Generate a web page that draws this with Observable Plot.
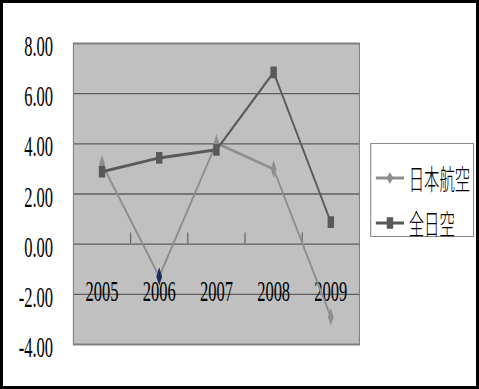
<!DOCTYPE html>
<html>
<head>
<meta charset="utf-8">
<script src="https://cdn.jsdelivr.net/npm/d3@7"></script>
<script src="https://cdn.jsdelivr.net/npm/@observablehq/plot@0.6"></script>
<style>
  html, body { margin: 0; padding: 0; background: #fff; }
  #wrap { position: relative; width: 479px; height: 389px; overflow: hidden; background: #fff; }
  #stage { position: absolute; left: 0; top: 0; height: 389px; transform-origin: 0 0; }
  #stage > svg { position: absolute; left: 0; top: 0; }
  #border { position: absolute; inset: 0; border: 3px solid #000; box-sizing: border-box; pointer-events: none; }
  #legend { position: absolute; background: #fff; box-sizing: border-box;
            border-top: 1px solid #8a8a8a; border-bottom: 1px solid #8a8a8a;
            border-left: 2px solid #8a8a8a; border-right: 2px solid #8a8a8a; }
  #legend .row { position: absolute; left: 0; height: 40px; display: flex; align-items: center; }
  #legend .row svg { position: static; margin-left: 8px; flex: none; }
  #legend .row span { font-family: "Noto Sans CJK JP", sans-serif; font-weight: 300; font-size: 28px; color: #000; margin-left: 8px; line-height: 40px; white-space: nowrap; }
</style>
</head>
<body>
<div id="wrap">
  <div id="stage"></div>
  <div id="border"></div>
</div>
<script>
// Yearly figures for the two airlines
const years = [2005, 2006, 2007, 2008, 2009];
const jalValues = [3.2, -1.29, 4.03, 2.99, -2.9];   // 日本航空
const anaValues = [2.89, 3.44, 3.76, 6.85, 0.88];   // 全日空
const seriesNames = ["日本航空", "全日空"];
const yTicks = [-4, -2, 0, 2, 4, 6, 8];
const highlightYear = 2006;

const jalColor = "#8e8e8e";
const anaColor = "#595959";
const highlightColor = "#1f2a5c";

// The chart is laid out wide and squeezed horizontally to get the narrow glyphs and tall markers
const squeeze = 0.55;
const W = Math.round(479 / squeeze);

const jal = years.map((year, i) => ({year, value: jalValues[i]}));
const ana = years.map((year, i) => ({year, value: anaValues[i]}));
// category boundaries between consecutive years
const bounds = d3.pairs(years).map(([a, b]) => (a + b) / 2);

const serif = "'Liberation Serif', 'Times New Roman', serif";

const chart = Plot.plot({
  width: W,
  height: 389,
  marginLeft: 133,
  marginRight: W - 653,
  marginTop: 43,
  marginBottom: 45,
  style: {fontFamily: serif, fontSize: "30px", color: "#000", background: "transparent"},
  x: {domain: [years[0] - 0.5, years[years.length - 1] + 0.5], axis: null},
  y: {domain: [yTicks[0], yTicks[yTicks.length - 1]], axis: null},
  marks: [
    Plot.frame({fill: "#c0c0c0"}),
    Plot.ruleY(yTicks.slice(1, -1), {stroke: "#5e5e5e", strokeWidth: 1.4}),
    Plot.ruleX(bounds, {y1: 0, y2: 0.45, stroke: "#5e5e5e", strokeWidth: 2}),
    Plot.frame({stroke: "#808080", strokeWidth: 2}),
    Plot.axisY({
      ticks: yTicks,
      tickFormat: d => d.toFixed(2),
      tickSize: 0,
      tickPadding: 37,
      fontSize: 30,
      dy: 3,
      label: null
    }),
    Plot.text(years, {x: d => d, y: () => 0, dy: 47, text: d => String(d), fontSize: 30}),
    Plot.line(jal, {x: "year", y: "value", stroke: jalColor, strokeWidth: 3}),
    Plot.dot(jal, {x: "year", y: "value", symbol: "diamond", r: 5.4, fill: jalColor, stroke: null}),
    Plot.dot(jal.filter(d => d.year === highlightYear), {x: "year", y: "value", symbol: "diamond", r: 5.4, fill: highlightColor, stroke: null}),
    Plot.line(ana, {x: "year", y: "value", stroke: anaColor, strokeWidth: 3}),
    Plot.dot(ana, {x: "year", y: "value", symbol: "square", r: 6.6, fill: anaColor, stroke: null})
  ]
});

const stage = document.getElementById("stage");
stage.style.width = W + "px";
stage.style.transform = `scaleX(${squeeze})`;
stage.appendChild(chart);

// Legend box to the right of the plot
const legend = document.createElement("div");
legend.id = "legend";
legend.style.left = Math.round(370 / squeeze) + "px";
legend.style.top = "143px";
legend.style.width = Math.round((474 - 370) / squeeze) + "px";
legend.style.height = "94px";
const legendItems = [
  {name: seriesNames[0], color: jalColor, symbol: d3.symbolDiamond2, size: 90},
  {name: seriesNames[1], color: anaColor, symbol: d3.symbolSquare, size: 137}
];
legendItems.forEach((item, i) => {
  const row = document.createElement("div");
  row.className = "row";
  row.style.top = (14 + i * 45) + "px";
  const sw = 52;
  const svg = d3.create("svg").attr("width", sw).attr("height", 20);
  svg.append("line").attr("x1", 0).attr("x2", sw).attr("y1", 10).attr("y2", 10)
    .attr("stroke", item.color).attr("stroke-width", 3);
  svg.append("path").attr("transform", `translate(${sw / 2},10)`)
    .attr("d", d3.symbol(item.symbol, item.size)()).attr("fill", item.color);
  row.appendChild(svg.node());
  const label = document.createElement("span");
  label.textContent = item.name;
  row.appendChild(label);
  legend.appendChild(row);
});
stage.appendChild(legend);
</script>
</body>
</html>
